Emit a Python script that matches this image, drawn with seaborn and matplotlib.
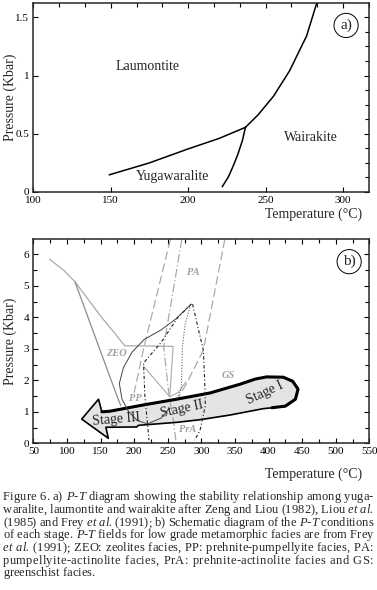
import numpy as np
import pandas as pd
import matplotlib
matplotlib.use("Agg")
import matplotlib.pyplot as plt
from matplotlib.ticker import MultipleLocator
from matplotlib.font_manager import FontProperties, findfont, get_font
import seaborn as sns

# --- panel a: phase boundaries (T in °C, P in kbar) ---
yl_T = [149, 175, 200, 220, 237]
yl_P = [0.147, 0.25, 0.37, 0.46, 0.555]
yw_T = [222, 226, 229, 232, 235, 237]
yw_P = [0.045, 0.13, 0.22, 0.32, 0.44, 0.555]
lw_T = [237, 245, 255, 265.5, 276.5, 283]
lw_P = [0.555, 0.66, 0.82, 1.04, 1.34, 1.62]

a_xticks = [100, 150, 200, 250, 300]
a_yticks = [0, 0.5, 1, 1.5]
a_ylabels = ["0", "0.5", "1", "1.5"]
a_names = ["Laumontite", "Wairakite", "Yugawaralite"]
a_name_T = [174, 279.5, 190]
a_name_P = [1.08, 0.47, 0.13]

# --- panel b: facies grid ---
zeo_top_T = [74, 95, 112, 130, 149, 168, 186, 258]
zeo_top_P = [5.85, 5.5, 5.13, 4.62, 4.07, 3.58, 3.1, 3.08]
zeo_pp_T = [112, 144, 174, 180]
zeo_pp_P = [5.13, 3.27, 1.53, 1.2]
pp_v_T = [258, 253]
pp_v_P = [3.08, 1.48]
pp_d_T = [214, 253, 266, 277]
pp_d_P = [2.45, 1.48, 1.62, 1.95]
pa_l_T = [254, 214, 200]
pa_l_P = [6.48, 3.0, 1.6]
pa_r_T = [335, 303, 278, 266]
pa_r_P = [6.48, 2.96, 1.9, 1.45]
pa_m_T = [271, 244, 252, 258, 262]
pa_m_P = [6.48, 3.07, 1.48, 0.8, 0.1]

# --- panel b: stage II fields ---
env_T = [285, 262, 240, 215, 197, 184, 178, 182, 192, 205, 220, 240, 252]
env_P = [4.42, 3.95, 3.6, 3.3, 2.9, 2.4, 1.9, 1.4, 1.0, 0.72, 0.62, 0.8, 1.1]
dd1_T = [285, 265, 240, 214, 216, 220, 222]
dd1_P = [4.42, 4.0, 3.2, 2.55, 1.5, 0.6, 0.1]
dd2_T = [287, 297, 303, 305, 306, 298, 290]
dd2_P = [4.42, 3.5, 2.96, 2.0, 1.2, 0.4, 0.1]
dot_T = [284, 276, 272, 271, 270, 262]
dot_P = [4.4, 3.8, 3.1, 2.3, 1.7, 1.4]

# --- stage path arrow outline ---
top_T = [152, 164, 214, 263, 313, 358, 380, 397, 422, 436, 444, 440, 425, 405]
top_P = [1.0, 1.02, 1.22, 1.4, 1.6, 1.88, 2.04, 2.11, 2.1, 1.97, 1.72, 1.4, 1.18, 1.13]
bot_T = [405, 392, 343, 298, 265, 206, 204, 158]
bot_P = [1.13, 1.1, 0.9, 0.75, 0.67, 0.57, 0.52, 0.51]
head_T = [158, 161.6, 122, 147, 152]
head_P = [0.51, 0.16, 0.77, 1.4, 1.0]

stages = ["Stage I", "Stage II", "Stage III"]
stage_T = [394.8, 270.8, 173]
stage_P = [1.59, 1.08, 0.75]
stage_rot = [25, 12, 5]

facies = ["PA", "ZEO", "GS", "PP", "PrA"]
facies_T = [288, 173, 340, 201.3, 280]
facies_P = [5.43, 2.86, 2.17, 1.43, 0.45]

b_xticks = list(range(50, 551, 50))
b_yticks = [0, 1, 2, 3, 4, 5, 6]

caption = [
    "Figure 6. a) *P-T* diagram showing the stability relationship among yuga-",
    "waralite, laumontite and wairakite after Zeng and Liou (1982), Liou *et al.*",
    "(1985) and Frey *et al.* (1991); b) Schematic diagram of the *P-T* conditions",
    "of each stage. *P-T* fields for low grade metamorphic facies are from Frey",
    "*et al.* (1991); ZEO: zeolites facies, PP: prehnite-pumpellyite facies, PA:",
    "pumpellyite-actinolite facies, PrA: prehnite-actinolite facies and GS:",
    "greenschist facies.",
]

sns.set_theme(style="ticks")
plt.rcParams["font.family"] = ["Liberation Serif", "DejaVu Serif"]
plt.rcParams["axes.linewidth"] = 1.1

fig = plt.figure(figsize=(3.77, 5.90), dpi=100)
fig.patch.set_facecolor("white")
ax1 = fig.add_axes([0.0884, 0.6746, 0.8912, 0.3198])
ax2 = fig.add_axes([0.0884, 0.2486, 0.8912, 0.3458])


def line(ax, T, P, **kw):
    d = pd.DataFrame({"T": T, "P": P})
    sns.lineplot(data=d, x="T", y="P", sort=False, estimator=None, ax=ax, **kw)


circ = dict(boxstyle="circle,pad=0.35", fc="white", ec="black", lw=0.7)

# ---------- panel a ----------
for T, P in [(yl_T, yl_P), (yw_T, yw_P), (lw_T, lw_P)]:
    line(ax1, T, P, color="black", linewidth=1.1)
for n, t, p in zip(a_names, a_name_T, a_name_P):
    ax1.text(t, p, n, fontsize=10, ha="center", va="center")
ax1.text(302, 1.43, "a)", fontsize=11, ha="center", va="center", bbox=circ)
ax1.set_xlim(100, 317)
ax1.set_ylim(0, 1.62)
ax1.set_xticks(a_xticks)
ax1.set_yticks(a_yticks, a_ylabels)
ax1.xaxis.set_minor_locator(MultipleLocator(50 / 3))
ax1.yaxis.set_minor_locator(MultipleLocator(0.125))
ax1.tick_params(which="both", direction="in", top=True, right=True, labelsize=8,
                width=0.8, colors="black")
ax1.tick_params(which="major", length=3.5, pad=3)
ax1.tick_params(which="minor", length=3, left=False, bottom=False)

# ---------- panel b ----------
lg = "#aaaaaa"
line(ax2, zeo_top_T, zeo_top_P, color=lg, linewidth=0.9)
line(ax2, zeo_pp_T, zeo_pp_P, color="#8c8c8c", linewidth=0.9)
line(ax2, pp_v_T, pp_v_P, color=lg, linewidth=0.8)
line(ax2, pp_d_T, pp_d_P, color=lg, linewidth=0.8)
line(ax2, pa_l_T, pa_l_P, color=lg, linewidth=0.9, dashes=(7, 3))
line(ax2, pa_r_T, pa_r_P, color=lg, linewidth=0.9, dashes=(7, 3))
line(ax2, pa_m_T, pa_m_P, color=lg, linewidth=0.9, dashes=(7, 2, 1, 2))

poly_T = top_T + bot_T + head_T
poly_P = top_P + bot_P + head_P
ax2.fill(poly_T, poly_P, color="#e4e4e4", zorder=1, lw=0)
line(ax2, poly_T, poly_P, color="black", linewidth=1.2)
line(ax2, top_T, top_P, color="black", linewidth=2.2)

line(ax2, env_T, env_P, color="#444444", linewidth=0.7)
line(ax2, dd1_T, dd1_P, color="#222222", linewidth=0.8, dashes=(3, 2, 1, 2))
line(ax2, dd2_T, dd2_P, color="#222222", linewidth=0.8, dashes=(3, 2, 1, 2))
line(ax2, dot_T, dot_P, color="#666666", linewidth=0.8, dashes=(1, 1.5))

for s, t, p, r in zip(stages, stage_T, stage_P, stage_rot):
    ax2.text(t, p, s, fontsize=10, ha="center", va="center", rotation=r,
             rotation_mode="anchor")
for f, t, p in zip(facies, facies_T, facies_P):
    ax2.text(t, p, f, fontsize=7.5, ha="center", va="center", color="#a0a0a0",
             style="italic", weight="bold")
ax2.text(520, 5.77, "b)", fontsize=11, ha="center", va="center", bbox=circ)
ax2.set_xlim(50, 550)
ax2.set_ylim(0, 6.48)
ax2.set_xticks(b_xticks)
ax2.set_yticks(b_yticks)
ax2.xaxis.set_minor_locator(MultipleLocator(25))
ax2.yaxis.set_minor_locator(MultipleLocator(0.5))
ax2.tick_params(which="both", direction="in", top=True, right=True, labelsize=8,
                width=0.8, colors="black")
ax2.tick_params(which="major", length=3.5, pad=3)
ax2.tick_params(which="minor", length=3)

# axis labels
for ax, yx in [(ax1, -0.117), (ax2, -0.150)]:
    ax.set_xlabel("Temperature (°C)", fontsize=10)
    ax.xaxis.set_label_coords(0.978, yx)
    ax.xaxis.label.set_ha("right")
    ax.xaxis.label.set_va("center")
    ax.set_ylabel("Pressure (Kbar)", fontsize=10)
    ax.yaxis.set_label_coords(-0.07, 0.5)
    ax.yaxis.label.set_va("center")

# ---------- caption: justified, with extra space spread over letters too ----------
W, H = fig.bbox.width, fig.bbox.height
x0, x1 = 3, 373
base = [500, 513, 526, 538, 551, 564, 576]
font_file = {it: findfont(FontProperties(family="Liberation Serif",
                                         style="italic" if it else "normal"))
             for it in (False, True)}


def adv(ch, it, size):
    f = get_font(font_file[it])
    f.set_size(size, 100)
    return f.load_char(ord(ch)).linearHoriAdvance / 65536


def split_chars(txt):
    out, ital = [], False
    for w in txt.split(" "):
        if w.startswith("*"):
            ital, w = True, w[1:]
        it = ital
        if w.endswith("*"):
            w, ital = w[:-1], False
        out.append([(c, it) for c in w])
    return out


lines = [split_chars(c) for c in caption]


def natural(words, size):
    sp = adv(" ", False, size)
    return sum(adv(c, it, size) for w in words for c, it in w) + sp * (len(words) - 1)


CAP = min((x1 - x0) / (natural(wl, 10.0) / 10.0) for wl in lines[:-1])

for k, (wl, yb) in enumerate(zip(lines, base)):
    sp = adv(" ", False, CAP)
    n_word = len(wl) - 1
    n_let = sum(len(w) - 1 for w in wl)
    extra = 0.0
    if k < len(lines) - 1:
        extra = (x1 - x0 - natural(wl, CAP)) / (4 * n_word + n_let)
    x = x0
    for j, w in enumerate(wl):
        for i, (c, it) in enumerate(w):
            fig.text(x / W, 1 - yb / H, c, fontsize=CAP, va="baseline", ha="left",
                     style="italic" if it else "normal")
            x += adv(c, it, CAP) + (extra if i < len(w) - 1 else 0)
        x += sp + 4 * extra

fig.savefig("out.png", dpi=100)
